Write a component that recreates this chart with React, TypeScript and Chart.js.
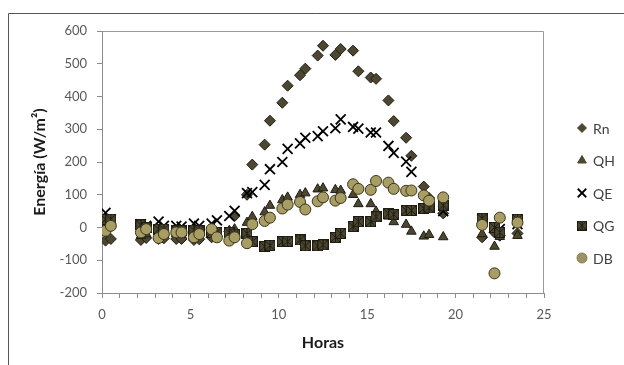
import React, { useEffect, useRef } from "react";
import { Chart, registerables } from "chart.js";
import { drawPoint } from "chart.js/helpers";

Chart.register(...registerables);

const hours = [0.2, 0.5, 2.2, 2.5, 3.2, 3.5, 4.2, 4.5, 5.2, 5.5, 6.2, 6.5, 7.2, 7.5, 8.2, 8.5, 9.2, 9.5, 10.2, 10.5, 11.2, 11.5, 12.2, 12.5, 13.2, 13.5, 14.2, 14.5, 15.2, 15.5, 16.2, 16.5, 17.2, 17.5, 18.2, 18.5, 19.3, 21.5, 22.2, 22.5, 23.5];
const rn = [-40, -35, -38, -32, -35, -33, -35, -35, -38, -36, -30, -28, -12, 35, 100, 192, 253, 326, 381, 433, 465, 485, 525, 555, 527, 545, 540, 477, 458, 454, 388, 325, 274, 219, 125, 90, 43, -30, -15, -25, -18];
const qh = [15, 20, -25, -20, -25, -20, -20, -22, -20, -15, -20, -18, -10, -5, 15, 33, 47, 67, 84, 92, 100, 105, 117, 120, 115, 113, 100, 72, 72, 49, 34, 17, 9, -12, -27, -22, -29, -20, -58, -28, -25];
const qe = [45, 25, 10, 5, 18, 5, 5, 3, 12, 5, 12, 22, 35, 51, 105, 108, 130, 178, 200, 240, 257, 274, 279, 294, 303, 330, 307, 302, 290, 290, 249, 228, 201, 170, 58, 62, 50, 25, 0, -5, 10];
const qg = [25, 25, 8, 0, -5, -5, -10, -10, -8, -10, -15, -15, -15, -20, -18, -43, -58, -55, -43, -42, -38, -56, -56, -53, -30, -18, 3, 18, 18, 33, 42, 40, 52, 52, 58, 60, 68, 28, 0, -15, 25];
const db = [-10, 5, -15, -5, -32, -20, -15, -15, -30, -20, -5, -30, -40, -30, -48, 10, 20, 30, 58, 70, 78, 55, 80, 92, 82, 90, 132, 118, 115, 142, 137, 118, 112, 113, 98, 82, 92, 8, -140, 30, 15];

const seriesNames = ["Rn", "QH", "QE", "QG", "DB"];
const seriesValues = [rn, qh, qe, qg, db];

const DARK = "#4d4731";
const EDGE = "#1e1c12";
const TAN = "#a89d63";
const FONT = "Lato, 'Open Sans', sans-serif";

function makeStarSquare(size: number) {
  const c = document.createElement("canvas");
  c.width = size;
  c.height = size;
  const g = c.getContext("2d")!;
  const s = size - 1;
  g.fillStyle = DARK;
  g.fillRect(0.5, 0.5, s, s);
  g.strokeStyle = EDGE;
  g.lineWidth = 1;
  g.strokeRect(0.5, 0.5, s, s);
  g.beginPath();
  g.moveTo(0.5, 0.5);
  g.lineTo(s + 0.5, s + 0.5);
  g.moveTo(s + 0.5, 0.5);
  g.lineTo(0.5, s + 0.5);
  g.moveTo(size / 2, 0.5);
  g.lineTo(size / 2, s + 0.5);
  g.stroke();
  return c;
}

export default function App() {
  const ref = useRef<HTMLCanvasElement>(null);
  useEffect(() => {
    const star = makeStarSquare(11);
    const starLegend = makeStarSquare(10);
    const styles: any[] = [
      { pointStyle: "rectRot", pointRadius: 5.5, backgroundColor: DARK, borderColor: EDGE, borderWidth: 1, order: 5 },
      { pointStyle: "triangle", pointRadius: 5.5, backgroundColor: DARK, borderColor: EDGE, borderWidth: 1, order: 4 },
      { pointStyle: "crossRot", pointRadius: 7, backgroundColor: "#000", borderColor: "#000", borderWidth: 1.8, order: 3 },
      { pointStyle: star, pointRadius: 5.5, backgroundColor: DARK, borderColor: EDGE, borderWidth: 1, order: 2 },
      { pointStyle: "circle", pointRadius: 5.5, backgroundColor: TAN, borderColor: "#3a3520", borderWidth: 1, order: 1 },
    ];
    const legendMarks: any[] = [
      { style: "rectRot", r: 4.5, fill: DARK, stroke: DARK, w: 1 },
      { style: "triangle", r: 5, fill: DARK, stroke: DARK, w: 1 },
      { style: "crossRot", r: 6, fill: "#000", stroke: "#000", w: 1.8 },
      { style: starLegend, r: 5, fill: DARK, stroke: DARK, w: 1 },
      { style: "circle", r: 5, fill: "#9c9160", stroke: "#8a8055", w: 1 },
    ];

    const framePlugin = {
      id: "framePlugin",
      beforeDraw(chart: any) {
        const ctx = chart.ctx;
        ctx.save();
        ctx.fillStyle = "#fff";
        ctx.fillRect(0, 0, chart.width, chart.height);
        ctx.strokeStyle = "#555";
        ctx.lineWidth = 1;
        ctx.beginPath();
        ctx.moveTo(8.5, chart.height);
        ctx.lineTo(8.5, 13.5);
        ctx.lineTo(chart.width, 13.5);
        ctx.stroke();
        const a = chart.chartArea;
        ctx.strokeStyle = "#9a9a9a";
        ctx.beginPath();
        ctx.moveTo(a.left, a.top + 0.5);
        ctx.lineTo(a.right - 0.5, a.top + 0.5);
        ctx.lineTo(a.right - 0.5, a.bottom);
        ctx.stroke();
        ctx.restore();
      },
      afterDraw(chart: any) {
        const ctx = chart.ctx;
        ctx.save();
        ctx.font = `14px ${FONT}`;
        ctx.textBaseline = "middle";
        ctx.textAlign = "left";
        seriesNames.forEach((name, i) => {
          const y = 128 + i * 32.5;
          const m = legendMarks[i];
          ctx.fillStyle = m.fill;
          ctx.strokeStyle = m.stroke;
          ctx.lineWidth = m.w;
          drawPoint(ctx, { pointStyle: m.style, radius: m.r, rotation: 0, borderWidth: m.w } as any, 582, y);
          ctx.fillStyle = "#404040";
          ctx.fillText(name, 593, y + 1);
        });
        ctx.restore();
      },
    };

    const chart = new Chart(ref.current!, {
      type: "scatter",
      data: {
        datasets: seriesNames.map((name, i) => ({
          label: name,
          data: hours.map((h, k) => ({ x: h, y: seriesValues[i][k] })),
          showLine: false,
          pointHoverRadius: styles[i].pointRadius,
          ...styles[i],
        })),
      },
      options: {
        responsive: false,
        animation: false,
        events: [],
        layout: { padding: { left: 30, top: 31, right: 80, bottom: 0 } },
        plugins: { legend: { display: false }, tooltip: { enabled: false } },
        scales: {
          x: {
            type: "linear",
            min: 0,
            max: 25,
            afterFit: (s: any) => { s.height = 72; },
            ticks: {
              stepSize: 1,
              autoSkip: false,
              maxRotation: 0,
              padding: 9,
              color: "#595959",
              font: { family: FONT, size: 13 },
              callback: (v: any) => (Number(v) % 5 === 0 ? String(v) : ""),
            },
            grid: { display: true, drawOnChartArea: false, drawTicks: true, tickLength: 5, color: "#8c8c8c" },
            border: { display: true, color: "#8c8c8c" },
            title: { display: true, text: "Horas", color: "#1a1a1a", font: { family: FONT, size: 16, weight: "bold" }, padding: { top: 0, bottom: 13 } },
          },
          y: {
            min: -200,
            max: 600,
            afterFit: (s: any) => { s.width = 72; },
            ticks: {
              stepSize: 100,
              padding: 10,
              color: "#595959",
              font: { family: FONT, size: 13 },
            },
            grid: { display: true, drawOnChartArea: false, drawTicks: true, tickLength: 5, color: "#8c8c8c" },
            border: { display: true, color: "#8c8c8c" },
            title: { display: true, text: "Energía (W/m²)", color: "#1a1a1a", font: { family: FONT, size: 16, weight: "bold" }, padding: { top: 0, bottom: 0 } },
          },
        },
      },
      plugins: [framePlugin],
    } as any);
    return () => chart.destroy();
  }, []);

  return (
    <div style={{ position: "fixed", left: 0, top: 0, width: 624, height: 365, overflow: "hidden", background: "#fff" }}>
      <canvas ref={ref} width={624} height={365} style={{ display: "block", width: 624, height: 365 }} />
    </div>
  );
}
